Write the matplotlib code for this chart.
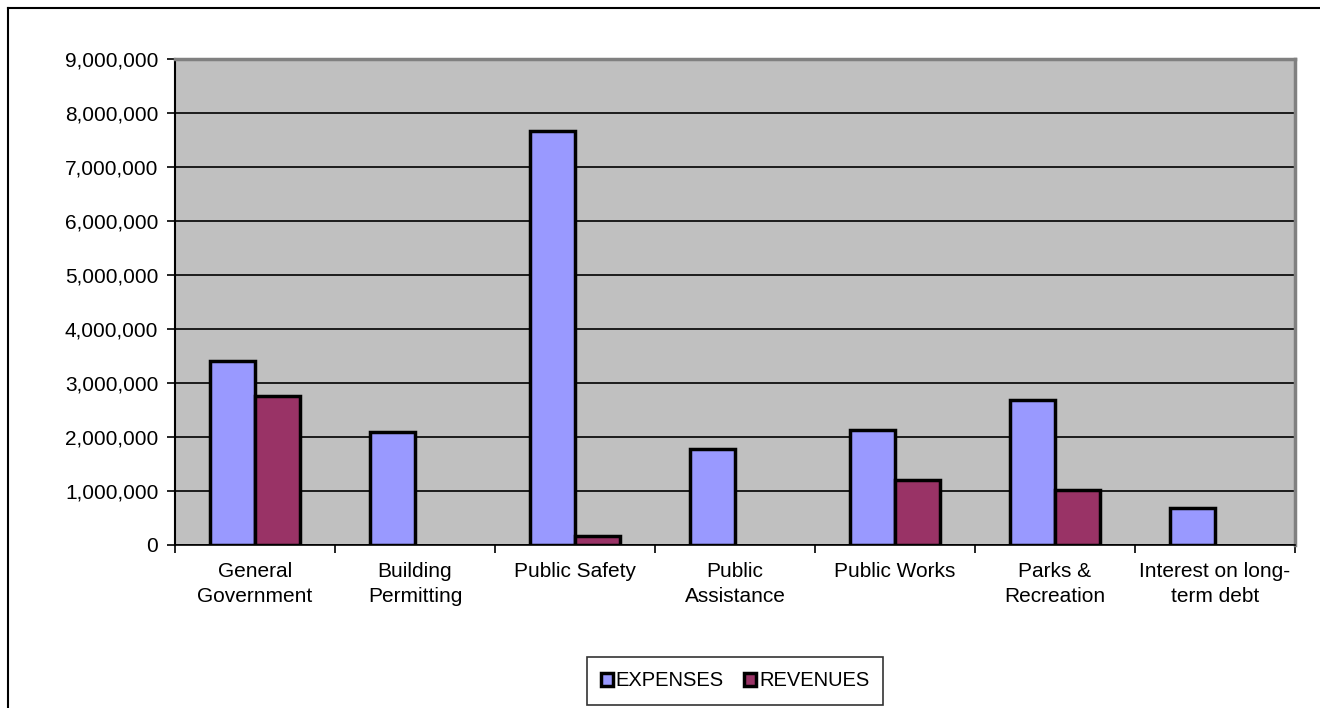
import numpy as np
import matplotlib.pyplot as plt
from matplotlib.lines import Line2D
from matplotlib.ticker import FuncFormatter

categories = ['General\nGovernment', 'Building\nPermitting', 'Public Safety', 'Public\nAssistance',
              'Public Works', 'Parks &\nRecreation', 'Interest on long-\nterm debt']
expenses = [3410000, 2090000, 7670000, 1780000, 2130000, 2690000, 690000]
revenues = [2760000, 0, 170000, 0, 1200000, 1020000, 0]

plt.rcParams['font.family'] = ['Liberation Sans', 'DejaVu Sans']
plt.rcParams['font.size'] = 15

fig = plt.figure(figsize=(13.2, 7.08), dpi=100)
ax = fig.add_axes([175 / 1320, 1 - 545 / 708, 1120 / 1320, 486 / 708])

# marco exterior del grafico (solo arriba e izquierda)
fig.lines.append(Line2D([8 / 1320, 1.0], [1 - 8 / 708, 1 - 8 / 708], transform=fig.transFigure,
                        color='black', linewidth=1.5))
fig.lines.append(Line2D([8 / 1320, 8 / 1320], [0, 1 - 8 / 708], transform=fig.transFigure,
                        color='black', linewidth=1.5))

x = np.arange(len(categories))
w = 0.28
ax.set_facecolor('#C0C0C0')
ax.bar(x - w / 2, expenses, w, color='#9999FF', edgecolor='black', linewidth=2.5, label='EXPENSES', zorder=3)
rev_bars = ax.bar(x + w / 2, revenues, w, color='#993366', edgecolor='black', linewidth=2.5, label='REVENUES', zorder=3)
for b, v in zip(rev_bars, revenues):
    if v == 0:
        b.set_visible(False)

ax.set_xlim(-0.5, len(categories) - 0.5)
ax.set_ylim(0, 9000000)
ax.set_yticks(np.arange(0, 9000001, 1000000))
ax.yaxis.set_major_formatter(FuncFormatter(lambda v, p: f'{int(v):,}'))
ax.yaxis.grid(True, color='black', linewidth=1.2, zorder=1)
ax.set_axisbelow(True)

ax.set_xticks(np.arange(-0.5, len(categories), 1))
ax.set_xticklabels([])
ax.set_xticks(x, minor=True)
ax.set_xticklabels(categories, minor=True, linespacing=1.4)
ax.tick_params(axis='x', which='minor', length=0, pad=12)
ax.tick_params(axis='x', which='major', direction='out', length=6, width=1.2)
ax.tick_params(axis='y', direction='out', length=6, width=1.2, pad=6)

ax.spines['left'].set_linewidth(1.5)
ax.spines['bottom'].set_linewidth(1.2)
ax.spines['top'].set_color('#808080')
ax.spines['right'].set_color('#808080')
ax.spines['top'].set_linewidth(2.5)
ax.spines['right'].set_linewidth(2.5)

leg = fig.legend(loc='center', bbox_to_anchor=(735 / 1320, 1 - 681 / 708), ncol=2, frameon=True,
                 fancybox=False, edgecolor='black', fontsize=14.5, handlelength=0.6, handleheight=0.6,
                 handletextpad=0.15, columnspacing=1.0, borderpad=0.7, borderaxespad=0)
leg.get_frame().set_linewidth(1.2)

fig.savefig('out.png', dpi=100)
